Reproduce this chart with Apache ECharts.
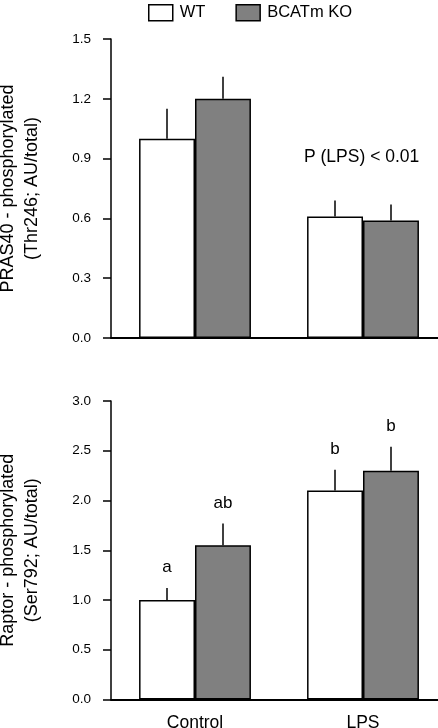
<!DOCTYPE html>
<html>
<head>
<meta charset="utf-8">
<script src="https://cdn.jsdelivr.net/npm/echarts@6/dist/echarts.min.js"></script>
<style>
    html, body { margin: 0; padding: 0; background: #fff; }
    #main { width: 438px; height: 728px; }
</style>
</head>
<body>
<div id="main"></div>
<script>
var categories = ['Control', 'LPS'];

// PRAS40 (top panel)
var prasWT = [1.0, 0.61];
var prasWTErr = [0.15, 0.08];
var prasKO = [1.2, 0.59];
var prasKOErr = [0.11, 0.08];

// Raptor (bottom panel)
var raptorWT = [1.0, 2.1];
var raptorWTErr = [0.12, 0.21];
var raptorKO = [1.55, 2.3];
var raptorKOErr = [0.22, 0.24];
var raptorWTLetters = ['a', 'b'];
var raptorKOLetters = ['ab', 'b'];

var FONT = 'Liberation Sans';

(function () {
    var myChart = echarts.init(document.getElementById('main'), null, {renderer: 'canvas'});

    function errData(means, errs, letters) {
        return means.map(function (m, i) {
            return [i, m, m + errs[i], letters ? letters[i] : ''];
        });
    }

    // side: -1 for WT (left bar), +1 for KO (right bar)
    function errSeries(name, axisIdx, data, side) {
        return {
            name: name,
            type: 'custom',
            xAxisIndex: axisIdx,
            yAxisIndex: axisIdx,
            z: 5,
            data: data,
            renderItem: function (params, api) {
                var band = api.size([1, 0])[0];
                var base = api.coord([api.value(0), api.value(1)]);
                var top = api.coord([api.value(0), api.value(2)]);
                var x = base[0] + side * band / 6;
                var children = [{
                    type: 'line',
                    shape: {x1: x, y1: base[1], x2: x, y2: top[1]},
                    style: {stroke: '#000', lineWidth: 1.5}
                }];
                var letter = api.value(3);
                if (letter) {
                    children.push({
                        type: 'text',
                        style: {
                            text: letter, x: x, y: top[1] - 12,
                            align: 'center', verticalAlign: 'bottom',
                            fontSize: 17, fontFamily: FONT, fill: '#000'
                        }
                    });
                }
                return {type: 'group', children: children};
            }
        };
    }

    function barSeries(name, axisIdx, data, color) {
        return {
            name: name,
            type: 'bar',
            xAxisIndex: axisIdx,
            yAxisIndex: axisIdx,
            data: data,
            barWidth: '33.3%',
            barGap: '0%',
            itemStyle: {color: color, borderColor: '#000', borderWidth: 1.5}
        };
    }

    function yAxis(idx, max, interval, name) {
        return {
            type: 'value',
            gridIndex: idx,
            min: 0,
            max: max,
            interval: interval,
            name: name,
            nameLocation: 'middle',
            nameRotate: 90,
            nameGap: 67,
            nameTextStyle: {fontSize: 18, fontFamily: FONT, color: '#000', lineHeight: 24},
            axisLine: {show: true, lineStyle: {color: '#000', width: 1.5}},
            axisTick: {show: true, length: 8, lineStyle: {color: '#000', width: 1.5}},
            axisLabel: {
                margin: 20, fontSize: 13.5, fontFamily: FONT, color: '#000',
                formatter: function (v) { return v.toFixed(1); }
            },
            splitLine: {show: false}
        };
    }

    function xAxis(idx, showLabels) {
        return {
            type: 'category',
            gridIndex: idx,
            data: categories,
            axisLine: {show: true, lineStyle: {color: '#000', width: 2}},
            axisTick: {show: false},
            axisLabel: {show: showLabels, margin: 15, fontSize: 17.5, fontFamily: FONT, color: '#000'}
        };
    }

    var option = {
        animation: false,
        backgroundColor: '#fff',
        textStyle: {fontFamily: FONT},
        legend: {
            data: ['WT', 'BCATm KO'],
            left: 143,
            top: -1,
            icon: 'rect',
            itemWidth: 24,
            itemHeight: 16,
            itemGap: 30,
            itemStyle: {borderColor: '#000', borderWidth: 1.5},
            textStyle: {fontSize: 16.5, fontFamily: FONT, color: '#000', padding: [0, 0, 0, 2]}
        },
        grid: [
            {left: 111, right: -9, top: 39, height: 299, outerBoundsMode: 'none', containLabel: false},
            {left: 111, right: -9, top: 401, height: 298.5, outerBoundsMode: 'none', containLabel: false}
        ],
        xAxis: [xAxis(0, false), xAxis(1, true)],
        yAxis: [
            yAxis(0, 1.5, 0.3, 'PRAS40 - phosphorylated\n(Thr246; AU/total)'),
            yAxis(1, 3.0, 0.5, 'Raptor - phosphorylated\n(Ser792; AU/total)')
        ],
        graphic: [{
            type: 'text',
            left: 304,
            top: 148,
            style: {text: 'P (LPS) < 0.01', fontSize: 17.5, fontFamily: FONT, fill: '#000'}
        }],
        series: [
            barSeries('WT', 0, prasWT, '#ffffff'),
            barSeries('BCATm KO', 0, prasKO, '#808080'),
            errSeries('prasWTErr', 0, errData(prasWT, prasWTErr), -1),
            errSeries('prasKOErr', 0, errData(prasKO, prasKOErr), 1),
            barSeries('WT', 1, raptorWT, '#ffffff'),
            barSeries('BCATm KO', 1, raptorKO, '#808080'),
            errSeries('raptorWTErr', 1, errData(raptorWT, raptorWTErr, raptorWTLetters), -1),
            errSeries('raptorKOErr', 1, errData(raptorKO, raptorKOErr, raptorKOLetters), 1)
        ]
    };

    myChart.setOption(option);
}());
</script>
</body>
</html>
